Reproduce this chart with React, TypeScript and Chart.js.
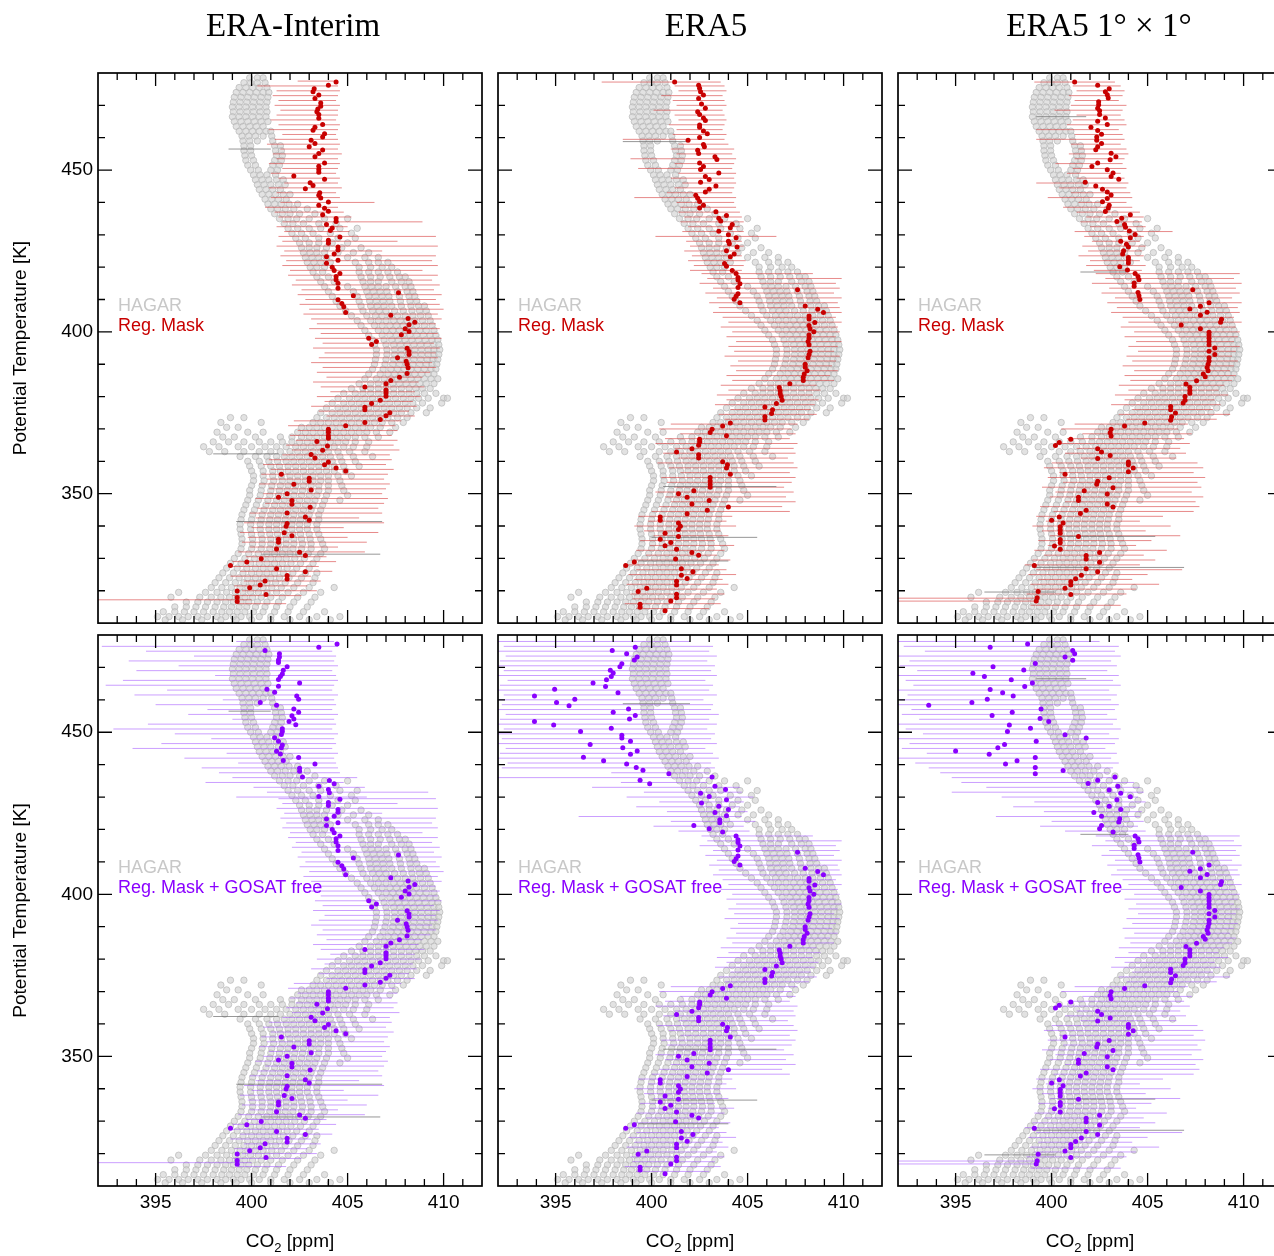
import React, { useEffect, useRef } from 'react';
import Chart from 'chart.js/auto';

// [co2, theta]
type Pt = [number, number];
// [theta, co2 low, co2 high]
type Bar = [number, number, number];

const xMin = 392;
const xMax = 412;
const yMin = 310;
const yMax = 480;
const xTicks = [393, 394, 395, 396, 397, 398, 399, 400, 401, 402, 403, 404, 405, 406, 407, 408, 409, 410, 411];
const xMajor = [395, 400, 405, 410];
const yTicks = [320, 330, 340, 350, 360, 370, 380, 390, 400, 410, 420, 430, 440, 450, 460, 470];
const yMajor = [350, 400, 450];

const titles = ['ERA-Interim', 'ERA5', 'ERA5 1° × 1°'];
const rowLabels = ['Reg. Mask', 'Reg. Mask + GOSAT free'];

// HAGAR observations, one row per potential temperature level: [theta, co2 values]
const hagarRows: [number, number[]][] = [
  [478.5, [399.9, 400.3, 400.6]],
  [477, [399.6, 399.95, 400.3, 400.7]],
  [475.5, [399.35, 399.7, 400.05, 400.4, 400.8]],
  [474, [399.2, 399.55, 399.9, 400.25, 400.6, 400.9]],
  [472.5, [399.1, 399.45, 399.8, 400.15, 400.5, 400.85]],
  [471, [399.05, 399.4, 399.75, 400.1, 400.45, 400.8]],
  [469.5, [399.0, 399.35, 399.7, 400.05, 400.4, 400.75]],
  [468, [399.05, 399.4, 399.75, 400.1, 400.45, 400.8]],
  [466.5, [399.0, 399.35, 399.7, 400.05, 400.4, 400.75]],
  [465, [399.1, 399.45, 399.8, 400.15, 400.5, 400.85]],
  [463.5, [399.2, 399.55, 399.9, 400.25, 400.6]],
  [462, [399.35, 399.7, 400.05, 400.4, 400.75, 401.0]],
  [460.5, [399.5, 399.85, 400.2, 400.6, 401.05]],
  [459, [399.55, 399.9, 400.3, 401.1]],
  [457.5, [399.6, 399.95, 401.2, 401.5]],
  [456, [399.6, 399.95, 401.25, 401.55]],
  [454.5, [399.65, 400.0, 401.3, 401.6]],
  [453, [399.7, 400.1, 401.2, 401.55]],
  [451.5, [399.8, 400.2, 401.1, 401.45]],
  [450, [399.95, 400.35, 401.0, 401.35]],
  [448.5, [400.1, 400.45, 400.8, 401.25]],
  [447, [400.2, 400.55, 400.9, 401.3, 401.65]],
  [445.5, [400.3, 400.65, 401.0, 401.4, 401.75]],
  [444, [400.4, 400.75, 401.1, 401.5]],
  [442.5, [400.55, 400.9, 401.25, 401.65, 402.0]],
  [441, [400.7, 401.05, 401.4, 401.8]],
  [439.5, [400.85, 401.2, 401.55, 401.95, 402.4]],
  [438, [401.0, 401.35, 401.75, 402.2, 402.9]],
  [436.5, [401.2, 401.6, 402.0, 402.5, 403.3]],
  [435, [401.45, 401.9, 402.35, 403.0, 403.8, 405.0]],
  [433.5, [401.7, 402.15, 402.7, 403.5, 404.4]],
  [432, [401.9, 402.4, 403.0, 403.6, 404.6, 405.5]],
  [430.5, [402.1, 402.6, 403.2, 404.1, 405.2]],
  [429, [402.3, 402.8, 403.5, 404.5, 405.4]],
  [427.5, [402.5, 403.0, 403.5, 404.2, 405.0]],
  [426, [402.6, 403.0, 403.4, 403.9, 404.7, 405.7]],
  [424.5, [402.7, 403.05, 403.4, 403.8, 404.5, 405.3, 406.1]],
  [423, [402.8, 403.15, 403.5, 403.9, 405.0, 405.9, 406.6]],
  [421.5, [402.9, 403.25, 403.6, 404.1, 405.4, 406.1, 406.6, 407.1]],
  [420, [403.05, 403.4, 403.8, 405.6, 406.2, 406.8, 407.3]],
  [418.5, [403.2, 403.7, 405.6, 406.1, 406.6, 407.1, 407.6]],
  [417, [403.4, 404.0, 405.7, 406.2, 406.7, 407.2, 407.7, 408.0]],
  [415.5, [403.6, 404.3, 405.8, 406.2, 406.6, 407.3, 407.8, 408.2]],
  [414, [403.8, 405.0, 405.9, 406.25, 406.6, 407.0, 407.5, 408.0, 408.3]],
  [412.5, [404.0, 405.3, 406.0, 406.35, 406.7, 407.05, 407.6, 408.1, 408.4]],
  [411, [404.2, 405.5, 406.1, 406.45, 406.8, 407.15, 407.7, 408.2, 408.5]],
  [409.5, [404.4, 405.6, 406.15, 406.5, 406.85, 407.2, 407.75, 408.25, 408.6]],
  [408, [404.6, 405.7, 406.2, 406.55, 406.9, 407.3, 407.8, 408.3, 408.7, 409.0]],
  [406.5, [404.9, 405.8, 406.3, 406.65, 407.0, 407.45, 407.9, 408.35, 408.75, 409.1]],
  [405, [405.2, 406.0, 406.45, 406.8, 407.2, 407.6, 408.0, 408.4, 408.8, 409.2]],
  [403.5, [405.5, 406.2, 406.6, 407.0, 407.4, 407.75, 408.1, 408.5, 408.9, 409.3]],
  [402, [405.7, 406.4, 406.8, 407.2, 407.55, 407.9, 408.25, 408.6, 409.0, 409.4]],
  [400.5, [405.9, 406.6, 407.0, 407.35, 407.7, 408.05, 408.4, 408.75, 409.1, 409.5]],
  [399, [406.1, 406.8, 407.2, 407.55, 407.9, 408.25, 408.6, 408.95, 409.3, 409.6]],
  [397.5, [406.3, 406.9, 407.3, 407.65, 408.0, 408.35, 408.7, 409.05, 409.4, 409.7]],
  [396, [406.4, 407.0, 407.4, 407.75, 408.1, 408.45, 408.8, 409.15, 409.5, 409.75]],
  [394.5, [406.5, 407.05, 407.45, 407.8, 408.15, 408.5, 408.85, 409.2, 409.5, 409.8]],
  [393, [406.5, 407.05, 407.45, 407.8, 408.15, 408.5, 408.85, 409.2, 409.5, 409.75]],
  [391.5, [406.45, 407.0, 407.4, 407.75, 408.1, 408.45, 408.8, 409.15, 409.45, 409.7]],
  [390, [406.4, 406.95, 407.35, 407.7, 408.05, 408.4, 408.75, 409.1, 409.4, 409.65]],
  [388.5, [406.3, 406.85, 407.25, 407.6, 407.95, 408.3, 408.65, 409.0, 409.35, 409.6]],
  [387, [406.1, 406.7, 407.1, 407.45, 407.8, 408.15, 408.5, 408.85, 409.2, 409.5]],
  [385.5, [405.9, 406.5, 406.9, 407.25, 407.6, 407.95, 408.3, 408.65, 409.0, 409.35, 409.7]],
  [384, [405.6, 406.2, 406.6, 407.0, 407.35, 407.7, 408.05, 408.4, 408.75, 409.1, 409.5]],
  [382.5, [405.2, 405.8, 406.2, 406.6, 407.0, 407.4, 407.8, 408.2, 408.55, 408.9, 409.3]],
  [381, [404.8, 405.4, 405.8, 406.2, 406.6, 407.0, 407.4, 407.8, 408.2, 408.6, 409.0, 409.6]],
  [379.5, [404.5, 405.1, 405.5, 405.9, 406.3, 406.7, 407.1, 407.5, 407.9, 408.3, 408.7, 409.2, 410.0, 410.2]],
  [378, [404.2, 404.8, 405.2, 405.6, 406.0, 406.4, 406.8, 407.2, 407.6, 408.0, 408.4, 408.9, 409.9]],
  [376.5, [403.9, 404.5, 404.9, 405.3, 405.7, 406.1, 406.5, 406.9, 407.3, 407.7, 408.1, 408.6, 409.3]],
  [375, [403.6, 404.2, 404.6, 405.0, 405.4, 405.8, 406.2, 406.6, 407.0, 407.4, 407.8, 408.3, 409.1]],
  [373.5, [398.9, 399.6, 403.4, 403.9, 404.3, 404.7, 405.1, 405.5, 405.9, 406.3, 406.7, 407.1, 407.6, 408.1]],
  [372, [398.4, 400.5, 403.2, 403.6, 404.0, 404.4, 404.8, 405.2, 405.6, 406.0, 406.4, 406.8, 407.3, 407.9]],
  [370.5, [398.7, 399.3, 402.6, 403.0, 403.4, 403.8, 404.2, 404.6, 405.0, 405.4, 405.8, 406.2, 406.7, 407.5]],
  [369, [398.2, 399.8, 400.6, 402.4, 402.8, 403.2, 403.6, 404.0, 404.4, 404.8, 405.2, 405.6, 406.0, 406.5, 407.2]],
  [367.5, [398.5, 399.1, 400.2, 401.5, 402.1, 402.6, 403.0, 403.4, 403.8, 404.2, 404.6, 405.0, 405.4, 405.9, 406.6]],
  [366, [398.0, 398.8, 399.6, 400.4, 401.0, 401.6, 402.1, 402.5, 402.9, 403.3, 403.7, 404.1, 404.5, 404.9, 405.4, 406.1]],
  [364.5, [397.5, 398.3, 399.3, 400.0, 400.7, 401.3, 401.8, 402.3, 402.7, 403.1, 403.5, 403.9, 404.3, 404.8, 405.3, 406.0]],
  [363, [397.8, 398.6, 399.6, 400.4, 401.0, 401.5, 402.0, 402.4, 402.8, 403.2, 403.6, 404.0, 404.5, 405.1, 405.9]],
  [361.5, [399.4, 400.2, 400.8, 401.3, 401.7, 402.1, 402.5, 402.9, 403.3, 403.7, 404.1, 404.6, 405.3, 406.3]],
  [360, [399.8, 400.4, 400.9, 401.35, 401.8, 402.2, 402.6, 403.0, 403.4, 403.8, 404.2, 404.7, 405.4]],
  [358.5, [399.9, 400.5, 401.0, 401.45, 401.9, 402.3, 402.7, 403.1, 403.5, 403.9, 404.3, 404.8, 405.6]],
  [357, [400.0, 400.6, 401.1, 401.5, 401.9, 402.3, 402.7, 403.1, 403.5, 403.9, 404.3, 404.9]],
  [355.5, [400.1, 400.6, 401.1, 401.55, 402.0, 402.4, 402.8, 403.2, 403.6, 404.0, 404.5, 405.2]],
  [354, [400.1, 400.65, 401.15, 401.6, 402.0, 402.4, 402.8, 403.2, 403.6, 404.0, 404.6]],
  [352.5, [400.0, 400.55, 401.05, 401.5, 401.9, 402.3, 402.7, 403.1, 403.5, 404.0, 404.7]],
  [351, [399.9, 400.5, 401.0, 401.45, 401.85, 402.25, 402.65, 403.05, 403.5, 404.0, 404.8]],
  [349.5, [399.9, 400.45, 400.95, 401.4, 401.8, 402.2, 402.6, 403.0, 403.4, 403.9, 405.0]],
  [348, [399.8, 400.35, 400.85, 401.3, 401.7, 402.1, 402.5, 402.9, 403.3, 403.8, 404.6]],
  [346.5, [399.7, 400.25, 400.75, 401.2, 401.6, 402.0, 402.4, 402.8, 403.2, 403.7]],
  [345, [399.6, 400.15, 400.65, 401.1, 401.5, 401.9, 402.3, 402.7, 403.1, 403.6]],
  [343.5, [399.5, 400.05, 400.55, 401.0, 401.4, 401.8, 402.2, 402.6, 403.0, 403.5]],
  [342, [399.45, 400.0, 400.5, 400.95, 401.35, 401.75, 402.15, 402.55, 402.95, 403.5]],
  [340.5, [399.4, 399.95, 400.45, 400.9, 401.3, 401.7, 402.1, 402.5, 402.9, 403.4]],
  [339, [399.4, 399.95, 400.45, 400.9, 401.3, 401.7, 402.1, 402.5, 402.9, 403.4]],
  [337.5, [399.45, 400.0, 400.5, 400.95, 401.35, 401.75, 402.15, 402.55, 403.0, 403.5]],
  [336, [399.5, 400.05, 400.55, 401.0, 401.4, 401.8, 402.2, 402.6, 403.05, 403.6]],
  [334.5, [399.5, 400.05, 400.55, 401.0, 401.4, 401.8, 402.2, 402.65, 403.1, 403.7]],
  [333, [399.45, 400.0, 400.5, 400.95, 401.35, 401.75, 402.15, 402.6, 403.1, 403.8]],
  [331.5, [399.3, 399.85, 400.35, 400.8, 401.2, 401.6, 402.0, 402.45, 402.95, 403.6]],
  [330, [399.1, 399.65, 400.15, 400.6, 401.0, 401.4, 401.8, 402.25, 402.75, 403.4]],
  [328.5, [398.9, 399.45, 399.95, 400.4, 400.8, 401.2, 401.6, 402.05, 402.55, 403.2]],
  [327, [398.7, 399.25, 399.75, 400.2, 400.6, 401.0, 401.4, 401.85, 402.35, 403.0]],
  [325.5, [398.5, 399.05, 399.55, 400.0, 400.4, 400.8, 401.2, 401.65, 402.15, 402.8, 403.4]],
  [324, [398.3, 398.85, 399.35, 399.8, 400.2, 400.6, 401.0, 401.45, 401.95, 402.6, 403.3]],
  [322.5, [398.1, 398.65, 399.15, 399.6, 400.0, 400.4, 400.8, 401.25, 401.75, 402.4, 403.2]],
  [321, [397.9, 398.45, 398.95, 399.4, 399.8, 400.2, 400.6, 401.05, 401.55, 402.2, 403.0, 404.3]],
  [319.5, [396.2, 397.6, 398.2, 398.7, 399.15, 399.55, 399.95, 400.35, 400.8, 401.3, 401.9, 402.7, 403.6]],
  [318, [395.8, 397.3, 397.9, 398.4, 398.85, 399.25, 399.65, 400.05, 400.5, 401.0, 401.6, 402.4, 403.3]],
  [316.5, [396.6, 397.2, 397.7, 398.2, 398.65, 399.05, 399.45, 399.85, 400.3, 400.8, 401.4, 402.2, 403.1]],
  [315, [396.0, 396.6, 397.1, 397.6, 398.1, 398.55, 398.95, 399.35, 399.75, 400.2, 400.7, 401.3, 402.0, 402.9]],
  [313.5, [395.4, 396.0, 396.5, 397.0, 397.5, 398.0, 398.45, 398.85, 399.25, 399.65, 400.1, 400.6, 401.2, 401.9, 402.7, 403.8]],
  [312, [395.1, 395.7, 396.2, 396.7, 397.2, 397.7, 398.2, 398.65, 399.05, 399.45, 399.9, 400.4, 401.0, 401.7, 402.5, 403.4, 404.6]],
  [311, [395.5, 396.4, 397.4, 398.4, 399.2, 400.0, 401.0, 402.0, 403.0, 404.1]],
];

// ---- ERA-Interim ----
const eraiLowDots: Pt[] = [
  [404.6, 429.3], [404.0, 428.3], [404.0, 427.4], [404.5, 426.2], [404.5, 425.3], [404.3, 424.1], [403.9, 423.2], [404.5, 422.1],
  [403.9, 421.2], [404.2, 420], [404.3, 419], [404.6, 418], [404.4, 417.1], [404.4, 416.1], [404.5, 415], [404.5, 413.5],
  [405.3, 411.2], [404.5, 409.9], [404.7, 408.8], [404.8, 407.8], [404.9, 406], [407.65, 412.1], [407.25, 405.1], [408.15, 404.1],
  [408.5, 403], [408.2, 402.2], [408.0, 401], [408.2, 400.1], [407.8, 399.1], [406.1, 398], [406.5, 397], [406.25, 396.1],
  [408.1, 394.9], [408.2, 393.9], [408.2, 393], [407.6, 392], [408.05, 390.9], [408.1, 390], [408.15, 388.9], [408.1, 387.1],
  [407.7, 386], [407.25, 385], [407.0, 384], [405.9, 383], [407.0, 382], [407.0, 381.1], [407.0, 380.1], [406.7, 378.9],
  [406.25, 377.9], [405.9, 376.7], [405.9, 375.9], [407.2, 375], [407.0, 374.1], [406.7, 372.9], [405.9, 372], [404.9, 371],
  [404.0, 369.9], [404.0, 369], [404.0, 367.9], [404.0, 367.1], [403.4, 366.1], [403.95, 364.7], [403.7, 363.4], [403.1, 362.1],
  [403.3, 361], [404.0, 359.8], [403.8, 358.9], [404.4, 357.9], [404.9, 357], [401.55, 356], [403.0, 354.8], [403.0, 353.8],
  [402.2, 352.9], [403.1, 351.1], [401.85, 350], [401.4, 348.9], [402.1, 347.9], [402.1, 346.7], [403.05, 345.8], [401.85, 344],
  [402.8, 342.8], [403.0, 341.8], [401.85, 340.8], [401.8, 339.9], [401.7, 337.9], [402.1, 337], [401.4, 335.9], [401.4, 335],
  [401.3, 332.9], [402.5, 331.9], [402.8, 330.9], [400.5, 329.9], [399.75, 328.9], [398.9, 327.8], [401.3, 326.8], [402.8, 325.9],
  [401.85, 324.7], [401.85, 323.6], [400.7, 323], [400.45, 321.8], [399.9, 320.9], [399.25, 319.9], [400.75, 318.8], [399.25, 317.9],
  [399.25, 316.7],
];
const eraiMaskDots: Pt[] = [
  [404.4, 477.2], [404.0, 476.2], [403.26, 475.1], [403.2, 474.2], [403.5, 473.2], [403.3, 472.1], [403.6, 470.7], [403.6, 469.7],
  [403.45, 468.9], [403.4, 468], [403.5, 467.2], [403.5, 466], [403.7, 464.1], [403.3, 463.2], [403.2, 462.3], [403.8, 461.2],
  [403.7, 460.2], [403.1, 459.2], [403.3, 458.2], [403.0, 457.2], [403.7, 456.2], [403.5, 455.1], [403.3, 454.1], [403.8, 452.2],
  [403.5, 451.2], [403.5, 450.2], [403.5, 449.3], [402.2, 448.2], [403.8, 447.2], [403.05, 446.1], [403.2, 445.2], [402.8, 444.2],
  [403.55, 443], [403.5, 442.2], [403.6, 441.4], [404.0, 440.1], [403.5, 439.1], [403.8, 438.2], [404.0, 437.3], [403.7, 436.2],
  [404.4, 435], [404.4, 434.1], [403.9, 433.2], [404.2, 432.1], [404.1, 431.3],
];
const eraiGosatDots: Pt[] = [
  [404.45, 477.2], [403.5, 476.2], [400.7, 475.2], [401.45, 474.2], [401.45, 473.2], [401.4, 472.3], [401.4, 471.5], [401.85, 470.2],
  [401.65, 469.1], [401.6, 468], [401.5, 467.2], [401.4, 466.3], [402.5, 465.2], [401.4, 464.2], [400.8, 463.3], [401.2, 462.3],
  [402.35, 461.2], [402.45, 460.2], [400.45, 459.2], [401.3, 458.3], [402.2, 457.2], [402.45, 456.2], [402.1, 455.1], [402.2, 454.1],
  [401.95, 453.3], [402.3, 452.3], [401.6, 451.1], [401.6, 450.2], [401.55, 449.3], [401.2, 448.3], [401.4, 447.2], [401.6, 446.1],
  [401.55, 445.2], [401.3, 444.1], [401.5, 443.3], [402.45, 442.2], [401.65, 441.3], [403.3, 440.2], [402.5, 438.9], [402.5, 438],
  [402.65, 436.2], [404.05, 435.1], [404.3, 434.1], [403.5, 433.3], [404.0, 432.3], [404.05, 431.3], [403.5, 430.2],
];
const eraiLowBars: Bar[] = [
  [429.5, 401.4, 409.6], [428, 401.6, 407.6], [426.5, 401.3, 409.7], [425, 401.7, 406.8], [423.5, 401.5, 409.6], [422, 401.8, 409.4],
  [420.5, 401.6, 409.7], [419, 402.0, 408.9], [417.5, 401.9, 409.7], [416, 402.3, 409.4], [414.5, 402.1, 409.8], [413, 402.6, 409.5],
  [411.5, 402.4, 409.9], [410, 402.8, 409.6], [408.5, 402.5, 409.8], [407, 403.0, 410.0], [405.5, 402.7, 409.7], [404, 403.1, 409.9],
  [402.5, 403.4, 409.6], [401, 403.0, 409.8], [399.5, 403.6, 409.7], [398, 403.3, 409.9], [396.5, 403.7, 409.5], [395, 403.2, 409.8],
  [393.5, 403.8, 409.6], [392, 403.5, 409.7], [390.5, 403.1, 409.4], [389, 403.7, 409.6], [387.5, 403.4, 409.3], [386, 403.9, 408.9],
  [384.5, 403.2, 408.7], [383, 403.6, 409.0], [381.5, 404.1, 408.5], [380, 403.4, 408.8], [378.5, 403.8, 408.4], [377, 403.1, 408.6],
  [375.5, 403.5, 408.2], [374, 403.9, 408.5], [372.5, 402.2, 407.8], [371, 401.9, 407.5], [369.5, 402.4, 407.6], [368, 402.0, 407.3],
  [366.5, 402.3, 407.6], [365, 401.8, 407.4], [363.5, 402.1, 407.7], [362, 401.6, 407.2], [360.5, 400.9, 407.3], [359, 400.6, 407.0],
  [357.5, 401.0, 407.4], [356, 400.5, 407.1], [354.5, 400.8, 406.9], [353, 400.4, 407.2], [351.5, 400.9, 407.0], [350, 400.6, 406.8],
  [348.5, 400.2, 407.1], [347, 400.7, 406.9], [345.5, 400.3, 406.6], [344, 399.9, 406.8], [342.5, 400.2, 405.6], [341, 399.6, 406.9],
  [339.5, 400.0, 404.8], [338, 399.4, 406.6], [336.5, 399.8, 405.0], [335, 399.5, 406.0], [333.5, 399.9, 404.5], [332, 399.3, 405.9],
  [330.5, 399.7, 403.9], [329, 399.0, 404.4], [327.5, 398.8, 403.5], [326, 399.4, 404.2], [324.5, 398.9, 403.1], [323, 399.6, 403.6],
  [321.5, 399.1, 402.9], [320, 399.5, 403.4], [318.5, 399.0, 402.6], [317.2, 392.0, 400.0], [316, 399.3, 401.8],
];
const eraiMaskBars: Bar[] = [
  [477.5, 402.4, 404.5], [476, 400.3, 404.5], [474.5, 401.3, 404.6], [473, 401.1, 404.5], [471.5, 401.4, 404.4], [470, 401.2, 404.6],
  [468.5, 401.5, 404.5], [467, 401.3, 404.5], [465.5, 401.0, 404.4], [464, 401.4, 404.6], [462.5, 400.9, 404.5], [461, 401.6, 404.4],
  [459.5, 401.2, 404.5], [458, 400.8, 404.6], [456.5, 401.5, 404.5], [455, 401.1, 404.7], [453.5, 401.3, 404.5], [452, 400.9, 404.6],
  [450.5, 401.6, 404.5], [449, 401.0, 404.4], [447.5, 401.4, 404.6], [446, 401.7, 404.5], [444.5, 400.9, 404.7], [443, 401.3, 404.4],
  [441.5, 401.0, 404.6], [440, 401.5, 406.4], [438.5, 400.7, 404.5], [437, 401.2, 404.8], [435.5, 401.4, 405.2], [434, 401.6, 408.9],
  [432.5, 401.3, 405.0], [431, 401.7, 405.1],
];
const eraiGosatBars: Bar[] = [
  [478, 399.2, 404.3], [476.5, 392.2, 404.5], [475, 394.5, 404.2], [473.5, 397.0, 404.4], [472, 393.6, 404.3], [470.5, 396.2, 404.5],
  [469, 394.0, 404.2], [467.5, 398.1, 404.4], [466, 393.3, 404.5], [464.5, 392.4, 404.3], [463, 395.6, 404.2], [461.5, 393.9, 404.5],
  [460, 398.5, 404.3], [458.5, 395.0, 404.4], [457, 397.7, 404.2], [455.5, 396.7, 404.5], [454, 399.0, 404.3], [452.5, 394.6, 404.4],
  [451, 392.8, 404.2], [449.5, 396.0, 404.5], [448, 397.9, 404.3], [446.5, 395.3, 404.4], [445, 393.8, 404.2], [443.5, 398.7, 404.5],
  [442, 396.5, 404.3], [440.5, 399.3, 404.4], [439, 397.4, 404.5], [437.5, 398.3, 404.6], [436, 399.0, 405.5], [434.5, 397.6, 404.8],
  [433, 400.1, 405.9], [431.5, 400.8, 409.2], [430, 399.2, 406.0],
];
const eraiGreyBars: Bar[] = [[456.5, 398.8, 401.0], [362.3, 398.0, 401.4], [341.4, 399.2, 406.8], [331.3, 400.5, 406.7]];

// ---- ERA5 ----
const era5LowDots: Pt[] = [
  [404.4, 418], [404.5, 416.8], [404.5, 416], [404.6, 414.9], [404.5, 413.7], [404.5, 411.8], [404.4, 411], [404.3, 410.1],
  [404.6, 409], [407.6, 413], [408.0, 408.0], [408.65, 407], [408.95, 406], [408.2, 404.9], [408.2, 404], [408.5, 402.9],
  [408.2, 402], [408.25, 401], [408.45, 400], [408.2, 399], [408.2, 398], [408.15, 397], [408.2, 396], [408.25, 394],
  [408.2, 393], [408.15, 392], [408.0, 390], [408.0, 389.1], [408.1, 388], [407.95, 387], [407.9, 386], [407.9, 385],
  [407.2, 384], [406.65, 382.8], [406.7, 381.8], [406.7, 380.9], [406.75, 380], [406.8, 378.9], [406.5, 377.9], [405.9, 376.8],
  [406.3, 375.9], [406.25, 374.8], [405.9, 373.8], [405.9, 372.8], [404.1, 371.8], [403.7, 370.9], [403.15, 369.9], [403.05, 368.9],
  [403.9, 367.9], [402.5, 366.8], [402.5, 366], [402.45, 365], [402.1, 363.9], [401.3, 362.9], [402.45, 362], [402.45, 361],
  [403.7, 359.9], [403.95, 358.9], [403.9, 357.9], [404.1, 356], [403.05, 355], [403.05, 353.9], [403.05, 352.8], [403.05, 352],
  [402.2, 350.9], [401.4, 350], [401.85, 348.9], [403.0, 347.9], [402.1, 346.8], [404.0, 345.9], [402.9, 344.9], [401.85, 343.8],
  [400.45, 342.8], [400.45, 341.8], [401.4, 340.9], [401.5, 339.9], [401.4, 338.9], [400.7, 337.8], [401.4, 336.8], [400.45, 335.9],
  [401.0, 334.9], [400.7, 333.9], [401.3, 332.8], [402.1, 331.8], [402.45, 331], [401.25, 329.8], [399.1, 328.9], [398.65, 327.8],
  [401.55, 326.8], [402.15, 325.9], [401.55, 324.8], [401.85, 323.8], [401.3, 322.9], [401.3, 321.8], [399.75, 320.8], [399.3, 319.8],
  [401.3, 318.9], [401.3, 317.8], [401.0, 316.8], [399.4, 315.8], [399.4, 314.9], [400.7, 313.8],
];
const era5MaskDots: Pt[] = [
  [401.2, 477.2], [402.45, 476.2], [402.5, 475.3], [402.55, 474.2], [402.7, 473.2], [402.45, 472.1], [402.6, 470.4], [402.8, 469.1],
  [402.4, 468.0], [402.5, 467.2], [402.7, 466.1], [402.8, 465.3], [402.5, 463.9], [402.5, 463.2], [402.7, 462.1], [402.9, 461.2],
  [402.5, 460.1], [401.9, 459.2], [402.7, 457.9], [402.75, 457.2], [402.4, 456.1], [402.45, 455.1], [403.3, 454.1], [403.4, 453.3],
  [402.5, 452.2], [402.7, 451.1], [402.55, 450.2], [403.5, 449.1], [402.8, 448], [403.0, 447.1], [402.55, 446.2], [403.35, 445.1],
  [403.0, 444.1], [402.8, 443.2], [402.3, 442.2], [402.4, 441.3], [402.5, 440.3], [402.7, 439.1], [402.5, 438.3], [403.35, 437.1],
  [403.9, 436], [403.5, 435.1], [403.6, 434.3], [404.2, 433.2], [404.1, 432.2], [403.5, 431.1], [404.0, 430], [404.4, 429.1],
  [404.0, 428], [404.05, 427.2], [404.45, 426.2], [403.9, 425.1], [404.3, 424.1], [404.1, 423.2], [403.8, 421.1], [403.9, 420.3],
  [404.2, 419],
];
const era5GosatDots: Pt[] = [
  [399.15, 476.2], [397.95, 475.2], [398.7, 474.2], [399.25, 473.2], [399.1, 472.3], [398.45, 471.1], [398.35, 470.2], [397.85, 469.1],
  [398.0, 468.3], [397.9, 467.2], [397.65, 466.2], [396.95, 465.2], [397.6, 464.1], [394.95, 463.3], [398.25, 462.2], [393.9, 461.2],
  [396.0, 460.2], [395.05, 459.2], [395.7, 458.2], [398.8, 457.2], [398.0, 456.2], [399.15, 455.2], [398.85, 454.1], [393.9, 453.3],
  [394.9, 452.2], [397.9, 451.2], [396.3, 450.2], [398.45, 449.1], [398.45, 448.2], [398.9, 447.2], [396.8, 446.2], [398.5, 445.2],
  [399.25, 444.2], [398.9, 443.2], [396.45, 442.3], [397.5, 441.2], [398.7, 440.2], [399.2, 439.1], [399.55, 438.3], [400.9, 437.2],
  [403.15, 436.2], [399.4, 435.2], [399.9, 434.1], [403.3, 433.3], [403.85, 432.3], [402.55, 431.2], [403.0, 430.2], [403.9, 429.2],
  [402.6, 428.2], [403.5, 427.2], [404.0, 426.2], [403.3, 425.2], [403.9, 424.2], [403.55, 423], [403.55, 422.1], [402.2, 421.2],
  [403.0, 420.2], [403.7, 419.2],
];
const era5LowBars: Bar[] = [
  [418, 402.6, 408.4], [416.5, 402.9, 409.9], [415, 402.5, 409.6], [413.5, 403.2, 409.8], [412, 402.8, 409.5], [410.5, 403.4, 409.9],
  [409, 403.0, 409.7], [407.5, 403.5, 409.8], [406, 403.2, 409.9], [404.5, 403.7, 409.6], [403, 404.0, 409.9], [401.5, 403.6, 409.7],
  [400, 404.2, 409.8], [398.5, 403.9, 409.6], [397, 404.4, 409.9], [395.5, 404.0, 409.7], [394, 404.3, 409.5], [392.5, 403.8, 409.8],
  [391, 404.5, 409.6], [389.5, 404.1, 409.4], [388, 404.4, 409.7], [386.5, 403.9, 409.3], [385, 404.2, 409.5], [383.5, 403.6, 408.6],
  [382, 404.0, 408.8], [380.5, 403.4, 408.4], [379, 403.9, 408.7], [377.5, 403.3, 408.5], [376, 404.1, 408.3], [374.5, 403.5, 408.6],
  [373, 403.8, 408.2], [371.5, 401.0, 407.6], [370, 400.4, 407.3], [368.5, 401.5, 407.5], [367, 400.7, 407.2], [365.5, 400.2, 407.6],
  [364, 401.2, 407.4], [362.5, 400.6, 407.5], [361, 401.4, 407.1], [359.5, 400.3, 407.4], [358, 400.9, 407.6], [356.5, 401.5, 407.2],
  [355, 400.5, 407.5], [353.5, 400.8, 407.3], [352, 401.2, 406.9], [350.5, 400.2, 407.4], [349, 400.7, 407.0], [347.5, 401.0, 407.5],
  [346, 400.4, 406.8], [344.5, 400.0, 407.2], [343, 399.3, 404.2], [341.5, 399.8, 403.9], [340, 399.1, 404.4], [338.5, 399.6, 403.6],
  [337, 400.1, 404.0], [335.5, 399.4, 403.3], [334, 399.9, 404.3], [332.5, 399.2, 403.8], [331, 399.7, 403.4], [329.5, 399.0, 404.1],
  [328, 398.6, 403.5], [326.5, 399.2, 403.9], [325, 398.8, 404.4], [323.5, 399.1, 403.7], [322, 398.7, 404.0], [320.5, 399.3, 403.4],
  [319, 398.9, 403.8], [317.5, 399.0, 403.3], [316, 398.6, 403.6], [314.5, 399.2, 403.0],
];
const era5MaskBars: Bar[] = [
  [477.2, 397.4, 403.6], [476, 401.2, 403.8], [474.5, 401.4, 403.9], [473, 400.5, 403.7], [471.5, 401.1, 403.8], [470, 401.3, 403.9],
  [468.5, 400.1, 403.7], [467, 401.2, 403.8], [465.5, 401.4, 403.9], [464, 400.9, 403.8], [462.5, 401.3, 403.7], [461, 401.1, 403.9],
  [459.5, 398.5, 403.8], [458, 401.4, 404.0], [456.5, 401.0, 404.3], [455, 401.3, 404.2], [453.5, 398.9, 404.4], [452, 401.2, 404.3],
  [450.5, 399.3, 404.2], [449, 401.4, 404.4], [447.5, 401.0, 404.3], [446, 401.6, 404.4], [444.5, 401.2, 404.3], [443, 400.8, 404.2],
  [441.5, 399.1, 404.4], [440, 401.3, 404.3], [438.5, 401.5, 404.4], [437, 401.4, 404.6], [435.5, 401.7, 404.7], [434, 401.5, 404.8],
  [432.5, 401.9, 404.6], [431, 401.6, 404.8], [429.5, 400.2, 406.5], [428, 401.8, 404.7], [426.5, 402.0, 404.8], [425, 401.7, 404.6],
  [423.5, 402.1, 404.7], [422, 401.9, 404.9], [420.5, 402.2, 404.8], [419, 402.0, 404.7],
];
const era5GosatBars: Bar[] = [
  [478, 392.0, 402.0], [476.5, 392.3, 403.2], [475, 392.0, 403.0], [473.5, 392.4, 403.4], [472, 392.1, 402.9], [470.5, 392.0, 403.3],
  [469, 392.3, 403.1], [467.5, 392.0, 403.4], [466, 392.5, 402.8], [464.5, 392.1, 403.2], [463, 392.0, 403.0], [461.5, 392.3, 403.4],
  [460, 392.0, 402.7], [458.5, 392.2, 403.2], [457, 392.0, 403.1], [455.5, 392.4, 403.5], [454, 392.1, 403.0], [452.5, 392.0, 403.4],
  [451, 392.3, 402.9], [449.5, 392.0, 403.3], [448, 392.2, 403.1], [446.5, 392.0, 403.4], [445, 392.4, 402.8], [443.5, 392.1, 403.2],
  [442, 392.0, 403.5], [440.5, 392.5, 403.1], [439, 392.2, 403.3], [437.5, 397.9, 403.0], [436, 392.0, 403.2], [434.5, 398.4, 402.9],
  [433, 396.9, 404.6], [431.5, 399.6, 404.7], [430, 398.7, 405.3], [428.5, 400.4, 404.8], [427, 399.2, 404.6], [425.5, 400.8, 405.0],
  [424, 396.2, 404.7], [422.5, 401.0, 405.4], [421, 400.1, 404.8], [419.5, 401.4, 405.1],
];
const era5GreyBars: Bar[] = [[458.8, 398.5, 402.0], [352.2, 400.6, 406.5], [336.5, 400.0, 405.5], [329.2, 399.3, 404.0]];

// ---- ERA5 1° x 1° ----
const era5x1LowDots: Pt[] = [
  [404.35, 418], [404.5, 417.1], [404.55, 416.1], [404.3, 415.1], [404.3, 414.1], [404.5, 412.2], [404.55, 411.2], [404.6, 410],
  [407.35, 413], [408.2, 409], [407.75, 407.9], [407.2, 407.1], [408.1, 406.1], [407.75, 405.1], [408.85, 403.9], [408.8, 403],
  [406.75, 402.1], [407.75, 401], [408.2, 399.9], [408.2, 399], [408.2, 398], [408.2, 397], [408.2, 396], [408.5, 395],
  [408.2, 394], [408.5, 393], [408.2, 392], [408.2, 391], [408.15, 390], [408.1, 389], [408.15, 388], [407.9, 387],
  [408.0, 386.1], [407.55, 384.9], [407.0, 383.9], [407.2, 382.9], [407.2, 381.9], [407.2, 381], [406.95, 380], [406.95, 378.9],
  [406.85, 378], [406.2, 376.9], [406.2, 375.9], [406.45, 374.9], [406.25, 373.8], [406.2, 372.7], [404.85, 371.8], [403.8, 370.9],
  [403.1, 369.9], [403.05, 368.8], [403.1, 367.8], [401.0, 366.8], [400.4, 365.8], [400.2, 364.9], [402.4, 363.9], [402.6, 362.9],
  [403.05, 361.8], [402.4, 360.9], [404.0, 359.8], [404.0, 358.9], [404.25, 357.9], [404.0, 356.8], [400.7, 356], [403.0, 354.9],
  [402.4, 353.8], [402.35, 352.9], [403.2, 351.8], [401.7, 350.9], [402.9, 349.9], [401.4, 348.9], [401.4, 347.9], [402.9, 346.8],
  [403.2, 345.9], [401.8, 344.9], [401.5, 343.9], [400.4, 342.8], [400.0, 341.8], [400.6, 340.9], [400.45, 339.8], [400.45, 338.8],
  [400.45, 337.8], [401.4, 336.8], [400.45, 335.8], [400.45, 334.8], [400.15, 333.8], [400.45, 332.8], [402.5, 331.8], [401.8, 330.9],
  [401.8, 329.8], [402.5, 328.8], [399.1, 327.8], [401.8, 326.8], [402.4, 325.9], [401.55, 324.8], [401.25, 323.7], [401.0, 322.8],
  [401.0, 321.8], [400.7, 320.8], [399.3, 319.8], [401.0, 318.8], [399.25, 317.8], [399.2, 316.8],
];
const era5x1MaskDots: Pt[] = [
  [401.2, 477.2], [402.4, 476.2], [403.0, 475.1], [402.8, 474.2], [402.9, 473.3], [402.95, 472.3], [402.45, 471.1], [402.45, 470.2],
  [402.4, 469.1], [402.5, 468.3], [402.5, 467.2], [402.8, 466.1], [402.4, 465.1], [402.9, 464.1], [402.05, 463.2], [402.4, 462.2],
  [402.6, 461.1], [402.35, 460.2], [402.35, 459.2], [402.6, 458.2], [402.4, 457.2], [402.3, 456.3], [403.1, 455.2], [403.35, 454.1],
  [403.05, 453.2], [402.4, 452.2], [402.1, 451.1], [402.9, 450.1], [403.2, 449.1], [403.1, 448], [403.5, 447.2], [401.75, 446.2],
  [402.3, 445.1], [402.65, 444.1], [402.9, 443.2], [403.1, 442.3], [402.9, 441.2], [402.65, 440.2], [403.0, 439.1], [402.95, 438.3],
  [402.8, 437.2], [404.1, 436.2], [403.65, 435.1], [403.4, 434.1], [403.8, 433.2], [403.85, 432.3], [404.05, 431.2], [404.35, 430.1],
  [404.1, 429.1], [403.6, 428], [403.9, 427.1], [404.0, 426.2], [403.75, 425.1], [403.7, 424.1], [404.0, 423], [404.0, 422.2],
  [404.0, 421.3], [403.55, 420.1], [403.95, 419.1],
];
const era5x1GosatDots: Pt[] = [
  [398.75, 477.2], [396.8, 476.2], [401.1, 475.2], [401.2, 474.2], [400.7, 473.2], [401.1, 472.2], [399.15, 471.2], [396.95, 470.2],
  [398.55, 469.2], [395.9, 468.2], [396.5, 467.2], [397.9, 466.2], [399.0, 465.2], [398.6, 464.1], [396.8, 463.2], [397.45, 462.2],
  [398.0, 461.2], [396.65, 460.2], [395.85, 459.2], [393.6, 458.3], [399.45, 457.2], [397.95, 456.2], [396.9, 455.2], [399.4, 454.2],
  [399.85, 453.3], [397.8, 452.2], [398.9, 451.2], [397.7, 450.2], [400.7, 449.2], [401.8, 448.2], [399.2, 447.2], [397.55, 446.2],
  [397.2, 445.2], [395.0, 444.2], [396.75, 443.2], [399.15, 442.2], [398.2, 441.2], [397.6, 440.2], [399.15, 439.1], [400.6, 438.2],
  [399.15, 437.2], [403.3, 436.2], [402.4, 435.2], [401.9, 434.2], [403.45, 433.3], [403.0, 432.2], [403.6, 431.2], [404.1, 430.1],
  [403.4, 429.2], [402.4, 428.3], [403.0, 427.2], [403.6, 426.2], [402.2, 425.2], [402.6, 424.1], [403.55, 423.3], [403.5, 422.3],
  [402.6, 421.2], [402.5, 420.2], [403.2, 419.2],
];
const era5x1LowBars: Bar[] = [
  [418, 402.3, 409.8], [416.5, 402.8, 409.5], [415, 402.1, 409.9], [413.5, 403.0, 409.6], [412, 402.6, 409.8], [410.5, 403.3, 409.4],
  [409, 402.9, 409.9], [407.5, 403.4, 409.7], [406, 403.1, 409.8], [404.5, 403.7, 409.5], [403, 404.0, 409.9], [401.5, 403.6, 409.6],
  [400, 404.3, 409.8], [398.5, 403.8, 409.7], [397, 404.4, 409.5], [395.5, 404.0, 409.8], [394, 404.5, 409.6], [392.5, 403.9, 409.4],
  [391, 404.2, 409.7], [389.5, 403.7, 409.5], [388, 404.3, 409.3], [386.5, 403.8, 409.6], [385, 404.1, 409.4], [383.5, 403.5, 409.0],
  [382, 404.0, 408.7], [380.5, 403.3, 409.2], [379, 403.8, 408.5], [377.5, 403.1, 408.8], [376, 404.2, 408.4], [374.5, 403.5, 409.3],
  [373, 403.9, 408.6], [371.5, 401.2, 407.1], [370, 400.5, 406.6], [368.5, 401.6, 407.3], [367, 400.8, 406.9], [365.5, 400.2, 407.2],
  [364, 401.3, 406.7], [362.5, 400.7, 407.0], [361, 401.5, 406.5], [359.5, 400.0, 407.6], [358, 399.6, 407.9], [356.5, 400.4, 407.4],
  [355, 399.8, 408.0], [353.5, 400.6, 407.6], [352, 399.5, 407.8], [350.5, 400.2, 407.3], [349, 399.9, 407.9], [347.5, 400.7, 407.5],
  [346, 399.4, 407.7], [344.5, 400.1, 407.4], [343, 399.2, 405.8], [341.5, 399.7, 404.6], [340, 399.0, 406.2], [338.5, 399.5, 404.9],
  [337, 399.9, 406.7], [335.5, 399.3, 405.2], [334, 399.8, 404.4], [332.5, 399.1, 406.0], [331, 399.6, 404.8], [329.5, 399.0, 405.4],
  [328, 398.6, 404.6], [326.5, 399.2, 406.8], [325, 398.8, 405.0], [323.5, 399.3, 404.2], [322, 398.9, 405.6], [320.5, 399.1, 404.4],
  [319, 398.7, 403.9], [317.7, 392.0, 399.3], [316.8, 392.0, 399.2], [315.5, 398.9, 403.6],
];
const era5x1MaskBars: Bar[] = [
  [477.2, 399.1, 403.3], [476, 401.1, 403.6], [474.5, 401.3, 403.8], [473, 400.9, 403.7], [471.5, 401.2, 403.5], [470, 401.0, 403.9],
  [468.5, 400.15, 403.7], [467, 401.3, 403.6], [465.5, 401.1, 403.8], [464, 400.8, 403.9], [462.5, 399.2, 403.5], [461, 401.2, 403.7],
  [459.5, 399.2, 403.8], [458, 401.0, 403.6], [456.5, 401.4, 403.9], [455, 400.9, 404.0], [453.5, 401.2, 403.8], [452, 400.2, 403.7],
  [450.5, 401.1, 403.9], [449, 400.8, 403.6], [447.5, 401.3, 403.8], [446, 399.2, 404.0], [444.5, 400.4, 403.9], [443, 401.0, 404.1],
  [441.5, 399.8, 404.2], [440, 401.4, 403.9], [438.5, 400.6, 404.2], [437, 401.3, 404.6], [435.5, 401.8, 404.8], [434, 401.5, 404.7],
  [432.5, 402.0, 404.9], [431, 401.2, 406.3], [429.5, 401.7, 404.8], [428, 402.1, 404.6], [426.5, 401.6, 404.9], [425, 401.9, 404.7],
  [423.5, 401.4, 404.8], [422, 402.0, 404.6], [420.5, 401.8, 404.9], [419, 402.2, 404.7],
];
const era5x1GosatBars: Bar[] = [
  [478, 392.0, 402.5], [476.5, 392.3, 403.5], [475, 393.4, 403.3], [473.5, 392.0, 403.6], [472, 392.6, 403.1], [470.5, 392.1, 403.4],
  [469, 393.0, 402.9], [467.5, 392.0, 403.5], [466, 392.4, 403.2], [464.5, 392.8, 403.6], [463, 392.0, 403.0], [461.5, 392.5, 403.4],
  [460, 392.1, 403.1], [458.5, 392.0, 403.5], [457, 392.7, 403.3], [455.5, 392.2, 402.9], [454, 393.1, 403.4], [452.5, 392.0, 403.2],
  [451, 392.4, 403.6], [449.5, 393.3, 403.0], [448, 392.0, 403.5], [446.5, 392.6, 403.3], [445, 392.2, 402.8], [443.5, 393.5, 403.4],
  [442, 392.0, 403.1], [440.5, 392.9, 403.5], [439, 393.6, 403.2], [437.5, 394.2, 403.0], [436, 394.8, 403.3], [434.5, 395.3, 404.3],
  [433, 396.6, 404.6], [431.5, 394.8, 404.8], [430, 397.4, 404.5], [428.5, 399.1, 404.9], [427, 398.0, 404.4], [425.5, 399.6, 404.7],
  [424, 397.1, 404.6], [422.5, 400.0, 404.8], [421, 399.4, 404.5], [419.5, 400.7, 404.9],
];
const era5x1GreyBars: Bar[] = [[466.5, 399.2, 401.8], [418.5, 401.5, 404.0], [336.8, 400.3, 405.4], [327.2, 399.0, 406.9], [319.6, 396.5, 400.2]];

const RED = '#c80000';
const PURPLE = '#8a00ff';
const RED_BAR = 'rgba(215, 60, 60, 0.6)';
const PURPLE_BAR = 'rgba(160, 80, 255, 0.55)';
const GREY_BAR = 'rgba(105, 105, 105, 0.7)';
const SANS = '"Liberation Sans", Arial, Helvetica, sans-serif';
const SERIF = '"Liberation Serif", "Times New Roman", serif';

// page layout
const PANEL_W = 384;
const PANEL_H = 551;
const COL_X = [98, 498, 898];
const ROW_Y = [73, 635];
const TITLE_X = [293, 706, 1099];
const PAGE_H = 1256;

interface PanelSpec {
  col: number;
  row: number;
  dots: Pt[];
  bars: Bar[];
  grey: Bar[];
  dotColor: string;
  barColor: string;
}

const panels: PanelSpec[] = [
  { col: 0, row: 0, dots: [...eraiMaskDots, ...eraiLowDots], bars: [...eraiMaskBars, ...eraiLowBars], grey: eraiGreyBars, dotColor: RED, barColor: RED_BAR },
  { col: 1, row: 0, dots: [...era5MaskDots, ...era5LowDots], bars: [...era5MaskBars, ...era5LowBars], grey: era5GreyBars, dotColor: RED, barColor: RED_BAR },
  { col: 2, row: 0, dots: [...era5x1MaskDots, ...era5x1LowDots], bars: [...era5x1MaskBars, ...era5x1LowBars], grey: era5x1GreyBars, dotColor: RED, barColor: RED_BAR },
  { col: 0, row: 1, dots: [...eraiGosatDots, ...eraiLowDots], bars: [...eraiGosatBars, ...eraiLowBars], grey: eraiGreyBars, dotColor: PURPLE, barColor: PURPLE_BAR },
  { col: 1, row: 1, dots: [...era5GosatDots, ...era5LowDots], bars: [...era5GosatBars, ...era5LowBars], grey: era5GreyBars, dotColor: PURPLE, barColor: PURPLE_BAR },
  { col: 2, row: 1, dots: [...era5x1GosatDots, ...era5x1LowDots], bars: [...era5x1GosatBars, ...era5x1LowBars], grey: era5x1GreyBars, dotColor: PURPLE, barColor: PURPLE_BAR },
];

const hagarPoints = hagarRows.flatMap(([t, xs]) => xs.map((x) => ({ x, y: t })));

function boxFor(p: PanelSpec) {
  const left = p.col === 0 ? 0 : COL_X[p.col] - 8;
  const top = p.row === 0 ? 0 : ROW_Y[p.row] - 8;
  const right = COL_X[p.col] + PANEL_W + 8;
  const bottom = p.row === 1 ? PAGE_H : ROW_Y[p.row] + PANEL_H + 4;
  return {
    left,
    top,
    width: right - left,
    height: bottom - top,
    padding: {
      left: COL_X[p.col] - left,
      top: ROW_Y[p.row] - top,
      right: 8,
      bottom: bottom - (ROW_Y[p.row] + PANEL_H),
    },
  };
}

function makeDecor(p: PanelSpec, canvasLeft: number) {
  return {
    id: 'decor',
    afterDatasetDraw(chart: any, args: any) {
      if (args.index !== 1) return;
      const { ctx, chartArea: a } = chart;
      const x = chart.scales.x;
      const y = chart.scales.y;
      ctx.save();
      ctx.beginPath();
      ctx.rect(a.left, a.top, a.right - a.left, a.bottom - a.top);
      ctx.clip();
      ctx.lineWidth = 1;
      const stroke = (bars: Bar[], color: string) => {
        ctx.strokeStyle = color;
        ctx.beginPath();
        for (const [t, lo, hi] of bars) {
          const py = y.getPixelForValue(t);
          ctx.moveTo(x.getPixelForValue(lo), py);
          ctx.lineTo(x.getPixelForValue(hi), py);
        }
        ctx.stroke();
      };
      stroke(p.bars, p.barColor);
      stroke(p.grey, GREY_BAR);
      ctx.restore();
    },
    afterDraw(chart: any) {
      const { ctx, chartArea: a } = chart;
      const x = chart.scales.x;
      const y = chart.scales.y;
      ctx.save();
      ctx.strokeStyle = '#000';
      ctx.lineWidth = 1.3;
      ctx.beginPath();
      for (const v of yTicks) {
        const py = y.getPixelForValue(v);
        const len = yMajor.includes(v) ? 14 : 7;
        ctx.moveTo(a.left, py);
        ctx.lineTo(a.left + len, py);
        ctx.moveTo(a.right, py);
        ctx.lineTo(a.right - len, py);
      }
      for (const v of xTicks) {
        const px = x.getPixelForValue(v);
        const len = xMajor.includes(v) ? 13 : 7;
        ctx.moveTo(px, a.bottom);
        ctx.lineTo(px, a.bottom - len);
        ctx.moveTo(px, a.top);
        ctx.lineTo(px, a.top + len);
      }
      ctx.stroke();
      ctx.lineWidth = 1.7;
      ctx.strokeRect(a.left, a.top, a.right - a.left, a.bottom - a.top);

      ctx.fillStyle = '#000';
      ctx.font = `19px ${SANS}`;
      if (p.col === 0) {
        ctx.textAlign = 'right';
        ctx.textBaseline = 'middle';
        for (const v of yMajor) ctx.fillText(String(v), a.left - 5, y.getPixelForValue(v));
        ctx.save();
        ctx.translate(a.left - 77, (a.top + a.bottom) / 2);
        ctx.rotate(-Math.PI / 2);
        ctx.textAlign = 'center';
        ctx.fillText('Potential Temperature [K]', 0, 0);
        ctx.restore();
      }
      if (p.row === 1) {
        ctx.textAlign = 'center';
        ctx.textBaseline = 'middle';
        for (const v of xMajor) ctx.fillText(String(v), x.getPixelForValue(v), a.bottom + 17);
        // CO2 with subscript
        const cy = a.bottom + 56;
        const cx = (a.left + a.right) / 2;
        ctx.font = `19px ${SANS}`;
        const w1 = ctx.measureText('CO').width;
        const w3 = ctx.measureText(' [ppm]').width;
        ctx.font = `13px ${SANS}`;
        const w2 = ctx.measureText('2').width;
        const start = cx - (w1 + w2 + w3) / 2;
        ctx.textAlign = 'left';
        ctx.font = `19px ${SANS}`;
        ctx.fillText('CO', start, cy);
        ctx.font = `13px ${SANS}`;
        ctx.fillText('2', start + w1, cy + 6);
        ctx.font = `19px ${SANS}`;
        ctx.fillText(' [ppm]', start + w1 + w2, cy);
      }
      if (p.row === 0) {
        ctx.font = `33px ${SERIF}`;
        ctx.textAlign = 'center';
        ctx.textBaseline = 'alphabetic';
        ctx.fillText(titles[p.col], TITLE_X[p.col] - canvasLeft, 36);
      }
      ctx.font = `18px ${SANS}`;
      ctx.textAlign = 'left';
      ctx.textBaseline = 'middle';
      ctx.fillStyle = '#c8c8c8';
      ctx.fillText('HAGAR', a.left + 20, a.top + 233);
      ctx.fillStyle = p.dotColor;
      ctx.fillText(rowLabels[p.row], a.left + 20, a.top + 253);
      ctx.restore();
    },
  };
}

const Panel: React.FC<{ spec: PanelSpec }> = ({ spec }) => {
  const canvasRef = useRef<HTMLCanvasElement>(null);
  const chartRef = useRef<Chart | null>(null);
  const box = boxFor(spec);

  useEffect(() => {
    if (!canvasRef.current) return;
    if (chartRef.current) chartRef.current.destroy();

    chartRef.current = new Chart(canvasRef.current, {
      type: 'scatter',
      data: {
        datasets: [
          {
            label: 'model',
            data: spec.dots.map(([x, y]) => ({ x, y })),
            pointRadius: 2.5,
            pointBackgroundColor: spec.dotColor,
            pointBorderWidth: 0,
          },
          {
            label: 'HAGAR',
            data: hagarPoints,
            pointRadius: 3.2,
            pointBackgroundColor: 'rgba(206, 206, 206, 0.6)',
            pointBorderColor: 'rgba(180, 180, 180, 0.75)',
            pointBorderWidth: 0.9,
          },
        ],
      },
      options: {
        responsive: false,
        animation: false,
        events: [],
        layout: { padding: box.padding },
        scales: {
          x: { type: 'linear', min: xMin, max: xMax, display: false },
          y: { type: 'linear', min: yMin, max: yMax, display: false },
        },
        plugins: {
          legend: { display: false },
          tooltip: { enabled: false },
        },
      },
      plugins: [makeDecor(spec, box.left)],
    });

    return () => {
      if (chartRef.current) {
        chartRef.current.destroy();
        chartRef.current = null;
      }
    };
  }, [spec]);

  return (
    <canvas
      ref={canvasRef}
      width={box.width}
      height={box.height}
      style={{ position: 'absolute', left: box.left, top: box.top, width: box.width, height: box.height }}
    />
  );
};

export default function App() {
  return (
    <div style={{ position: 'absolute', left: 0, top: 0, width: 1274, height: PAGE_H, overflow: 'hidden', background: '#fff' }}>
      {panels.map((p) => (
        <Panel key={`${p.row}-${p.col}`} spec={p} />
      ))}
    </div>
  );
}
